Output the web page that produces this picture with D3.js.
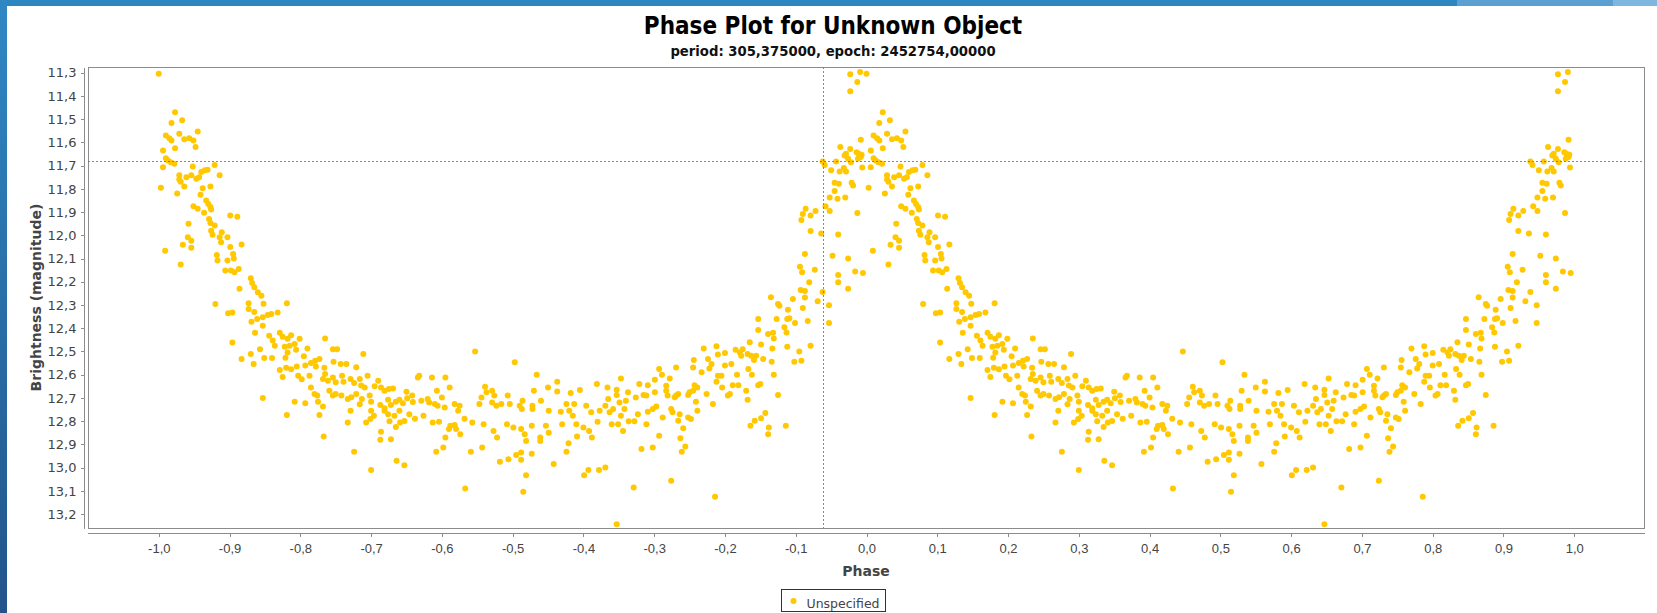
<!DOCTYPE html>
<html lang="en">
<head>
<meta charset="UTF-8">
<title>Phase Plot for Unknown Object</title>
<script src="https://d3js.org/d3.v7.min.js"></script>
<style>
    body {
        margin: 0;
        background: #fff;
    }

    svg {
        display: block;
        font-family: "DejaVu Sans", sans-serif;
    }

    .axis path,
    .axis line {
        fill: none;
        stroke: #8c8c8c;
        shape-rendering: crispEdges;
    }

    .axis text {
        font-size: 13px;
        fill: #444;
    }

    .title {
        font-family: "DejaVu Sans Condensed", "DejaVu Sans", sans-serif;
        font-stretch: condensed;
        font-weight: bold;
    }
</style>
</head>
<body>

<div id="phase_plot"></div>

<script>

    // ---- chart data ----
    var chartTitle = "Phase Plot for Unknown Object";
    var chartSubtitle = "period: 305,375000, epoch: 2452754,00000";
    var xLabel = "Phase";
    var yLabel = "Brightness (magnitude)";
    var seriesName = "Unspecified";

    var xTicks = [-1.0, -0.9, -0.8, -0.7, -0.6, -0.5, -0.4, -0.3, -0.2, -0.1, 0.0,
                  0.1, 0.2, 0.3, 0.4, 0.5, 0.6, 0.7, 0.8, 0.9, 1.0];
    var yTicks = [11.3, 11.4, 11.5, 11.6, 11.7, 11.8, 11.9, 12.0, 12.1, 12.2, 12.3,
                  12.4, 12.5, 12.6, 12.7, 12.8, 12.9, 13.0, 13.1, 13.2];

    // crosshair position (phase, magnitude)
    var crossPhase = -0.062;
    var crossMag = 11.682;

    // observations: [phase (0..1), magnitude]; each is drawn at phase and phase - 1
    var obsMaxima = [
        [0.000,11.305],[0.023,11.47],[0.018,11.517],[0.033,11.505],[0.055,11.553],[0.010,11.57],[0.015,11.582],
        [0.018,11.592],[0.029,11.563],[0.036,11.587],[0.043,11.582],[0.049,11.592],[0.052,11.62],[0.023,11.625],
        [0.006,11.635],[0.010,11.668],[0.013,11.678],[0.017,11.685],[0.022,11.692],[0.006,11.707],[0.048,11.704],
        [0.079,11.697],[0.065,11.72],[0.069,11.718],[0.060,11.728],[0.029,11.742],[0.029,11.76],[0.031,11.77],
        [0.039,11.75],[0.046,11.742],[0.053,11.757],[0.057,11.75],[0.086,11.742],[0.003,11.795],[0.036,11.79],
        [0.062,11.797],[0.073,11.79],[0.026,11.82],[0.059,11.825],[0.067,11.85],[0.070,11.865],[0.073,11.878],
        [0.074,11.889],[0.049,11.875],[0.055,11.886],[0.064,11.903],[0.101,11.915],[0.111,11.92],[0.071,11.93],
        [0.073,11.947],[0.079,11.958],[0.042,11.95],[0.074,11.98],[0.076,11.998],[0.089,11.987],[0.086,12.008],
        [0.097,12.008],[0.088,12.03],[0.041,12.008],[0.046,12.023],[0.034,12.041],[0.046,12.054],[0.009,12.066],
        [0.101,12.05],[0.117,12.04],[0.082,12.085],[0.083,12.109],[0.097,12.109],[0.105,12.08],[0.106,12.10],
        [0.031,12.126],[0.094,12.152],[0.102,12.152],[0.107,12.159],[0.113,12.145]
    ];

    var obsDecline = [
        [0.130,12.185],[0.132,12.205],[0.135,12.224],[0.140,12.245],[0.145,12.26],[0.114,12.23],[0.080,12.296],
        [0.098,12.336],[0.104,12.332],[0.127,12.293],[0.127,12.317],[0.148,12.295],[0.181,12.293],[0.135,12.33],
        [0.139,12.36],[0.147,12.353],[0.147,12.389],[0.154,12.343],[0.159,12.339],[0.168,12.332],[0.131,12.372],
        [0.104,12.461],[0.136,12.42],[0.156,12.432],[0.161,12.453],[0.164,12.475],[0.171,12.42],[0.175,12.437],
        [0.182,12.445],[0.187,12.43],[0.199,12.445],[0.178,12.48],[0.185,12.475],[0.192,12.468],[0.182,12.504],
        [0.235,12.444],[0.117,12.533],[0.130,12.511],[0.134,12.554],[0.143,12.49],[0.149,12.528],[0.160,12.528],
        [0.179,12.527],[0.194,12.493],[0.205,12.521],[0.210,12.487],[0.246,12.49],[0.252,12.49],[0.289,12.511],
        [0.171,12.58],[0.175,12.61],[0.180,12.57],[0.187,12.577],[0.195,12.565],[0.197,12.605],[0.202,12.62],
        [0.213,12.605],[0.207,12.56],[0.215,12.55],[0.221,12.54],[0.227,12.533],[0.222,12.565],[0.234,12.57],
        [0.247,12.544],[0.257,12.554],[0.265,12.554],[0.279,12.568],[0.235,12.597],[0.232,12.619],[0.239,12.626],
        [0.246,12.612],[0.250,12.633],[0.259,12.605],[0.261,12.63],[0.271,12.619],[0.276,12.636],[0.284,12.619],
        [0.295,12.605],[0.286,12.647],[0.291,12.655],[0.310,12.626],[0.305,12.65],[0.314,12.655],[0.319,12.669],
        [0.325,12.662],[0.331,12.659],[0.350,12.673],[0.215,12.655],[0.220,12.683],[0.224,12.69],[0.241,12.669],
        [0.246,12.69],[0.250,12.683],[0.258,12.69],[0.267,12.705],[0.272,12.697],[0.279,12.683],[0.287,12.705],
        [0.284,12.727],[0.298,12.69],[0.300,12.717],[0.313,12.73],[0.319,12.744],[0.324,12.708],[0.328,12.73],
        [0.335,12.716],[0.340,12.708],[0.345,12.723],[0.351,12.701],[0.192,12.716],[0.207,12.723],[0.225,12.716],
        [0.232,12.737],[0.147,12.70],[0.271,12.755],[0.300,12.755],[0.304,12.777],[0.319,12.755],[0.324,12.77],
        [0.326,12.80],[0.333,12.777],[0.340,12.755],[0.341,12.806],[0.347,12.799],[0.354,12.77],[0.181,12.774],
        [0.227,12.774],[0.267,12.806],[0.293,12.806],[0.299,12.791],[0.335,12.825],[0.314,12.846],[0.313,12.88],
        [0.328,12.878],[0.233,12.866],[0.276,12.932],[0.336,12.971],[0.347,12.99],[0.300,13.01]
    ];

    var obsMinimum = [
        [0.447,12.50],[0.503,12.547],[0.368,12.605],[0.366,12.612],[0.386,12.612],[0.405,12.612],[0.534,12.60],
        [0.653,12.616],[0.707,12.576],[0.711,12.60],[0.411,12.655],[0.461,12.652],[0.471,12.669],[0.463,12.676],
        [0.530,12.669],[0.550,12.655],[0.563,12.63],[0.563,12.672],[0.582,12.679],[0.595,12.666],[0.619,12.64],
        [0.634,12.655],[0.647,12.665],[0.647,12.688],[0.679,12.64],[0.691,12.645],[0.701,12.622],[0.701,12.676],
        [0.685,12.688],[0.689,12.69],[0.663,12.676],[0.674,12.698],[0.358,12.69],[0.359,12.718],[0.371,12.712],
        [0.380,12.705],[0.382,12.72],[0.393,12.669],[0.400,12.698],[0.390,12.726],[0.394,12.734],[0.404,12.741],
        [0.418,12.726],[0.425,12.734],[0.423,12.755],[0.456,12.698],[0.453,12.726],[0.474,12.69],[0.471,12.72],
        [0.477,12.734],[0.484,12.726],[0.493,12.69],[0.496,12.726],[0.510,12.734],[0.514,12.712],[0.513,12.748],
        [0.528,12.734],[0.528,12.748],[0.540,12.712],[0.551,12.755],[0.568,12.76],[0.576,12.726],[0.580,12.755],
        [0.587,12.726],[0.585,12.777],[0.604,12.734],[0.611,12.762],[0.623,12.755],[0.631,12.734],[0.635,12.705],
        [0.637,12.762],[0.642,12.748],[0.651,12.72],[0.660,12.712],[0.658,12.748],[0.653,12.777],[0.677,12.77],
        [0.691,12.76],[0.698,12.748],[0.703,12.737],[0.712,12.784],[0.362,12.79],[0.374,12.777],[0.387,12.806],
        [0.396,12.803],[0.405,12.87],[0.412,12.82],[0.418,12.817],[0.420,12.834],[0.426,12.856],[0.410,12.834],
        [0.432,12.79],[0.443,12.806],[0.459,12.813],[0.473,12.842],[0.478,12.87],[0.492,12.813],[0.501,12.827],
        [0.512,12.834],[0.517,12.856],[0.519,12.885],[0.527,12.82],[0.539,12.87],[0.539,12.885],[0.547,12.82],
        [0.551,12.85],[0.570,12.813],[0.590,12.813],[0.579,12.895],[0.591,12.866],[0.600,12.827],[0.608,12.842],
        [0.612,12.87],[0.620,12.803],[0.640,12.813],[0.649,12.813],[0.656,12.842],[0.664,12.8],[0.672,12.8],
        [0.689,12.813],[0.707,12.863],[0.392,12.932],[0.402,12.913],[0.441,12.932],[0.457,12.913],[0.482,12.975],
        [0.494,12.964],[0.505,12.946],[0.512,12.935],[0.512,12.966],[0.527,12.94],[0.519,13.033],[0.558,12.985],
        [0.576,12.932],[0.601,13.033],[0.607,13.01],[0.622,13.01],[0.631,13.0],[0.682,12.92],[0.698,12.913],
        [0.433,13.09],[0.515,13.104],[0.671,13.086],[0.647,13.244]
    ];

    var obsRise = [
        [0.977,11.307],[0.991,11.297],[0.987,11.34],[0.977,11.38],[0.992,11.589],[0.963,11.62],[0.977,11.628],
        [0.971,11.649],[0.969,11.656],[0.986,11.642],[0.989,11.649],[0.993,11.653],[0.988,11.67],[0.992,11.663],
        [0.978,11.685],[0.974,11.67],[0.938,11.682],[0.941,11.697],[0.957,11.682],[0.950,11.72],[0.962,11.725],
        [0.968,11.71],[0.971,11.725],[0.994,11.708],[0.955,11.774],[0.961,11.778],[0.979,11.774],[0.981,11.786],
        [0.955,11.809],[0.948,11.837],[0.959,11.843],[0.970,11.837],[0.942,11.875],[0.948,11.895],[0.928,11.895],
        [0.921,11.915],[0.914,11.886],[0.910,11.908],[0.908,11.934],[0.987,11.904],[0.921,11.981],[0.936,11.992],
        [0.960,11.997],[0.913,12.08],[0.952,12.088],[0.974,12.10],[0.906,12.135],[0.909,12.159],[0.927,12.148],
        [0.960,12.171],[0.960,12.202],[0.984,12.156],[0.995,12.162],[0.974,12.23],[0.919,12.202],[0.907,12.235],
        [0.913,12.24],[0.913,12.268],[0.938,12.244],[0.931,12.284],[0.947,12.301],[0.865,12.267],[0.875,12.296],
        [0.877,12.303],[0.889,12.32],[0.896,12.274],[0.910,12.313],[0.847,12.36],[0.873,12.36],[0.888,12.36],
        [0.891,12.357],[0.899,12.377],[0.917,12.369],[0.947,12.377],[0.884,12.396],[0.887,12.418],[0.847,12.408],
        [0.861,12.425],[0.868,12.42],[0.869,12.444],[0.921,12.475],[0.888,12.48],[0.835,12.46],[0.851,12.47],
        [0.867,12.487],[0.905,12.50],[0.898,12.544],[0.908,12.54],[0.770,12.487],[0.788,12.478],[0.790,12.513],
        [0.800,12.507],[0.815,12.493],[0.821,12.504],[0.825,12.49],[0.823,12.518],[0.832,12.511],[0.837,12.518],
        [0.844,12.518],[0.841,12.537],[0.854,12.533],[0.866,12.544],[0.756,12.537],[0.776,12.533],[0.781,12.554],
        [0.778,12.573],[0.767,12.59],[0.800,12.56],[0.809,12.554],[0.833,12.576],[0.838,12.60],[0.817,12.60],
        [0.869,12.60],[0.755,12.569],[0.731,12.569],[0.722,12.616],[0.790,12.605],[0.795,12.605],[0.788,12.63],
        [0.796,12.655],[0.811,12.645],[0.819,12.645],[0.847,12.645],[0.850,12.64],[0.830,12.669],[0.832,12.708],
        [0.875,12.688],[0.804,12.69],[0.807,12.683],[0.757,12.645],[0.761,12.655],[0.755,12.669],[0.750,12.676],
        [0.748,12.688],[0.774,12.683],[0.717,12.648],[0.717,12.669],[0.719,12.69],[0.731,12.69],[0.734,12.683],
        [0.729,12.697],[0.759,12.717],[0.761,12.755],[0.783,12.726],[0.724,12.748],[0.726,12.762],[0.736,12.77],
        [0.748,12.784],[0.752,12.791],[0.734,12.798],[0.741,12.831],[0.857,12.765],[0.851,12.788],[0.842,12.798],
        [0.836,12.82],[0.862,12.827],[0.861,12.856],[0.886,12.82],[0.737,12.874],[0.744,12.909],[0.739,12.932],
        [0.724,13.057],[0.786,13.125]
    ];

    // ---- layout ----
    var W = 1657, H = 613;
    var plot = {left: 88, top: 67, right: 1644, bottom: 528};

    var svg = d3.select("#phase_plot").append("svg")
        .attr("width", W)
        .attr("height", H);

    // blue window frame (left and top edges)
    var defs = svg.append("defs");
    var grad = defs.append("linearGradient")
        .attr("id", "frameGrad")
        .attr("x1", 0).attr("y1", 0).attr("x2", 0).attr("y2", 1);
    grad.append("stop").attr("offset", "0%").attr("stop-color", "#2f88c4");
    grad.append("stop").attr("offset", "100%").attr("stop-color", "#22548a");

    defs.append("clipPath").attr("id", "plotClip")
        .append("rect")
        .attr("x", plot.left).attr("y", plot.top)
        .attr("width", plot.right - plot.left).attr("height", plot.bottom - plot.top);

    svg.append("rect").attr("x", 0).attr("y", 0).attr("width", W).attr("height", 6).attr("fill", "#2e86c1");
    svg.append("rect").attr("x", 1457).attr("y", 0).attr("width", 156).attr("height", 6).attr("fill", "#5ba0d0");
    svg.append("rect").attr("x", 1613).attr("y", 0).attr("width", 44).attr("height", 6).attr("fill", "#7db6de");
    svg.append("rect").attr("x", 0).attr("y", 0).attr("width", 7).attr("height", H).attr("fill", "url(#frameGrad)");

    // ---- scales ----
    var x = d3.scaleLinear().domain([-1.1, 1.1]).range([plot.left, plot.right + 1]);
    var y = d3.scaleLinear().domain([11.2755, 13.26]).range([plot.top, plot.bottom]);

    function commaFmt(v) {
        var r = Math.round(v * 10) / 10;
        if (r === 0) r = 0;
        return r.toFixed(1).replace(".", ",");
    }

    // ---- titles ----
    svg.append("text")
        .attr("class", "title")
        .attr("x", 833).attr("y", 34)
        .attr("text-anchor", "middle")
        .style("font-size", "24px")
        .attr("fill", "#000")
        .text(chartTitle);

    svg.append("text")
        .attr("class", "title")
        .attr("x", 833).attr("y", 56)
        .attr("text-anchor", "middle")
        .style("font-size", "14.7px")
        .attr("fill", "#111")
        .text(chartSubtitle);

    // ---- plot background + outline ----
    svg.append("rect")
        .attr("x", plot.left + 0.5).attr("y", plot.top + 0.5)
        .attr("width", plot.right - plot.left).attr("height", plot.bottom - plot.top)
        .attr("fill", "#fff")
        .attr("stroke", "#8c8c8c")
        .attr("stroke-width", 1);

    // ---- axes ----
    var yAxis = svg.append("g")
        .attr("class", "axis")
        .attr("transform", "translate(83.5,0)")
        .call(d3.axisLeft(y).tickValues(yTicks).tickFormat(commaFmt)
            .tickSizeInner(3).tickSizeOuter(0).tickPadding(4));
    yAxis.selectAll("text").style("font-family", "DejaVu Sans, sans-serif");

    var xAxis = svg.append("g")
        .attr("class", "axis")
        .attr("transform", "translate(0,533.5)")
        .call(d3.axisBottom(x).tickValues(xTicks).tickFormat(commaFmt)
            .tickSizeInner(3).tickSizeOuter(0).tickPadding(7));
    xAxis.select(".domain").attr("d", "M" + plot.left + ",0H" + (plot.right + 1));

    svg.append("text")
        .attr("x", (plot.left + plot.right) / 2).attr("y", 576)
        .attr("text-anchor", "middle")
        .style("font-size", "14px").style("font-weight", "bold")
        .attr("fill", "#444")
        .text(xLabel);

    svg.append("text")
        .attr("transform", "translate(41," + ((plot.top + plot.bottom) / 2) + ") rotate(-90)")
        .attr("text-anchor", "middle")
        .style("font-size", "14px").style("font-weight", "bold")
        .attr("fill", "#444")
        .text(yLabel);

    // ---- points ----
    var observations = obsMaxima.concat(obsDecline, obsMinimum, obsRise);
    var folded = [];
    observations.forEach(function(d) {
        folded.push([d[0], d[1]]);
        folded.push([d[0] - 1, d[1]]);
    });

    svg.append("g")
        .attr("clip-path", "url(#plotClip)")
        .selectAll("circle")
        .data(folded)
        .enter().append("circle")
        .attr("cx", function(d) { return x(d[0]); })
        .attr("cy", function(d) { return y(d[1]); })
        .attr("r", 3)
        .attr("fill", "#ffc800");

    // ---- crosshair ----
    var cross = svg.append("g")
        .attr("stroke", "#6464ff")
        .attr("stroke-width", 1)
        .attr("stroke-dasharray", "2,2")
        .attr("opacity", 0.85);
    cross.append("line")
        .attr("x1", Math.round(x(crossPhase)) + 0.5).attr("x2", Math.round(x(crossPhase)) + 0.5)
        .attr("y1", plot.top).attr("y2", plot.bottom);
    cross.append("line")
        .attr("x1", plot.left).attr("x2", plot.right)
        .attr("y1", Math.round(y(crossMag)) + 0.5).attr("y2", Math.round(y(crossMag)) + 0.5);

    // ---- legend ----
    var legend = svg.append("g").attr("transform", "translate(781.5,589.5)");
    legend.append("rect")
        .attr("width", 104).attr("height", 22)
        .attr("fill", "#fff")
        .attr("stroke", "#333");
    legend.append("circle")
        .attr("cx", 12).attr("cy", 11.5).attr("r", 3)
        .attr("fill", "#ffc800");
    legend.append("text")
        .attr("x", 25).attr("y", 18)
        .style("font-size", "12.5px")
        .attr("fill", "#444")
        .text(seriesName);

</script>

</body>
</html>
